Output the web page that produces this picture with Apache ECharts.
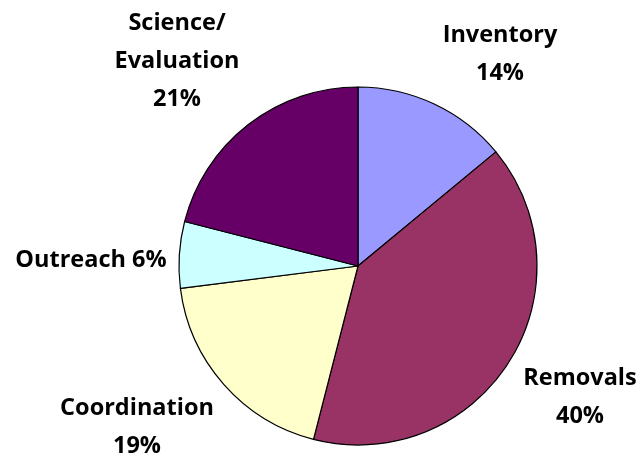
<!DOCTYPE html>
<html>
<head>
<meta charset="utf-8">
<script src="https://cdn.jsdelivr.net/npm/echarts@6/dist/echarts.min.js"></script>
<style>
  html, body { margin: 0; padding: 0; background: #fff; }
  #chart { width: 642px; height: 457px; }
</style>
</head>
<body>
<div id="chart"></div>
<script>
const categories = ["Inventory", "Removals", "Coordination", "Outreach", "Science/\nEvaluation"];
const shares = [14, 40, 19, 6, 21];
const colors = ["#9999FF", "#993366", "#FFFFCC", "#CCFFFF", "#660066"];

// label anchor points (text centers), Excel-style fixed placement
const labelSpots = [[500, 54], [580, 397], [137, 427], [91, 260], [177, 61]];

const chart = echarts.init(document.getElementById("chart"), null, { renderer: "canvas" });

chart.setOption({
  backgroundColor: "#fff",
  animation: false,
  series: [
    {
      type: "pie",
      center: [358, 266],
      radius: 179,
      startAngle: 90,
      clockwise: true,
      data: categories.map((c, i) => ({
        name: c,
        value: shares[i],
        itemStyle: { color: colors[i] },
      })),
      itemStyle: { borderColor: "#000", borderWidth: 1.2 },
      label: {
        show: true,
        position: "outside",
        overflow: "none",
        color: "#000",
        fontFamily: "'Open Sans', Lato, sans-serif",
        fontWeight: "bold",
        fontSize: 23.5,
        lineHeight: 38,
        align: "center",
        formatter: (p) =>
          p.dataIndex === 3 ? p.name + " " + p.value + "%" : p.name + "\n" + p.value + "%",
      },
      labelLine: { show: false },
      labelLayout: (p) => ({
        x: labelSpots[p.dataIndex][0],
        y: labelSpots[p.dataIndex][1],
        align: "center",
        verticalAlign: "middle",
      }),
      emphasis: { disabled: true },
    },
  ],
});
</script>
</body>
</html>
